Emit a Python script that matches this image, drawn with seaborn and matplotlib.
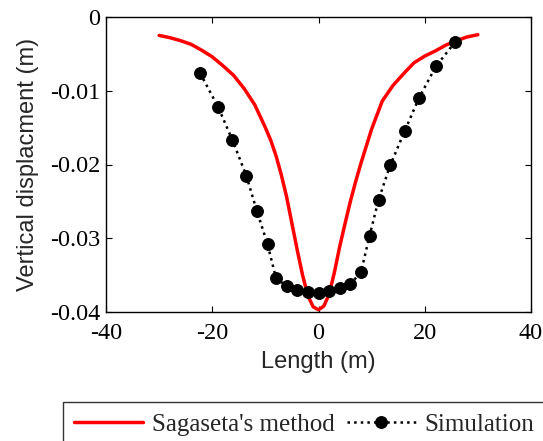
import matplotlib
matplotlib.use("Agg")
import matplotlib.pyplot as plt
import seaborn as sns
import pandas as pd

# Sagaseta's method (analytical curve)
sag_x = [-30, -28, -26, -24, -22, -20, -18, -16, -14, -12, -10, -9, -8, -7, -6, -5, -4, -3, -2, -1, 0,
         1, 2, 3, 4, 5, 6, 7, 8, 9, 10, 12, 14, 16, 18, 20, 22, 24, 26, 28, 30]
sag_y = [-0.0025, -0.0028, -0.0032, -0.0037, -0.0045, -0.0054, -0.0066, -0.0079,
         -0.0097, -0.0119, -0.0150, -0.0167, -0.0188, -0.0214, -0.0244, -0.0280, -0.0316,
         -0.0350, -0.0378, -0.0393, -0.0397,
         -0.0392, -0.0376, -0.0346, -0.0311, -0.0280, -0.0250, -0.0223, -0.0198, -0.0175,
         -0.0152, -0.0114, -0.0093, -0.0077, -0.0062, -0.0053, -0.0046, -0.0038, -0.0032,
         -0.0027, -0.0024]

# Simulation points
sim_x = [-22.3, -18.9, -16.2, -13.6, -11.6, -9.6, -8.0, -6, -4, -2, 0, 2, 4, 6, 8,
         9.6, 11.3, 13.5, 16.2, 18.9, 22.1, 25.7]
sim_y = [-0.0076, -0.0122, -0.0167, -0.0215, -0.0263, -0.0308, -0.0354, -0.0365,
         -0.0370, -0.0373, -0.0374, -0.0372, -0.0367, -0.0362, -0.0346,
         -0.0297, -0.0248, -0.0201, -0.0155, -0.0110, -0.0067, -0.0034]

x_ticks = [-40, -20, 0, 20, 40]
y_ticks = [-0.04, -0.03, -0.02, -0.01, 0]
y_tick_labels = ["-0.04", "-0.03", "-0.02", "-0.01", "0"]

sns.set_style("ticks")
plt.rcParams["axes.unicode_minus"] = False
plt.rcParams["font.family"] = ["Liberation Serif", "DejaVu Serif"]

fig = plt.figure(figsize=(5.43, 4.41), dpi=100)
ax = fig.add_axes([106 / 543, 1 - 312 / 441, (531 - 106) / 543, (312 - 17) / 441])

df_sag = pd.DataFrame({"x": sag_x, "y": sag_y})
df_sim = pd.DataFrame({"x": sim_x, "y": sim_y})

sns.lineplot(data=df_sag, x="x", y="y", ax=ax, sort=False, color="#ff0000",
             linewidth=2.5, label="Sagaseta's method", estimator=None)
sns.lineplot(data=df_sim, x="x", y="y", ax=ax, sort=False, color="black",
             linewidth=1.8, linestyle=":", marker="o", markersize=8.5,
             markeredgecolor="black", markerfacecolor="black",
             label="Simulation", estimator=None)

ax.set_xlim(-40, 40)
ax.set_ylim(-0.04, 0)
ax.set_xticks(x_ticks)
ax.set_xticklabels([str(t) for t in x_ticks])
ax.set_yticks(y_ticks)
ax.set_yticklabels(y_tick_labels)
ax.tick_params(direction="in", length=4, width=0.8, labelsize=17.5, top=True, right=True,
               colors="black")
ax.tick_params(axis="x", pad=8)
ax.tick_params(axis="y", pad=4)
for s in ax.spines.values():
    s.set_linewidth(1.0)
    s.set_color("black")

ax.set_xlabel("Length (m)", fontsize=17, family="Liberation Sans", labelpad=5)
ax.set_ylabel("Vertical displacment (m)", fontsize=17, family="Liberation Sans", labelpad=8)

handles, labels = ax.get_legend_handles_labels()
ax.get_legend().remove()
leg = fig.legend(handles, labels, loc="upper left", bbox_to_anchor=(63 / 543, 1 - 402 / 441),
                 ncol=2, fontsize=18, frameon=True, fancybox=False, edgecolor="black",
                 handlelength=2.75, handletextpad=0.35, columnspacing=0.5,
                 borderpad=0.45, borderaxespad=0)
leg.get_frame().set_linewidth(1.0)

fig.savefig("out.png", dpi=100)
